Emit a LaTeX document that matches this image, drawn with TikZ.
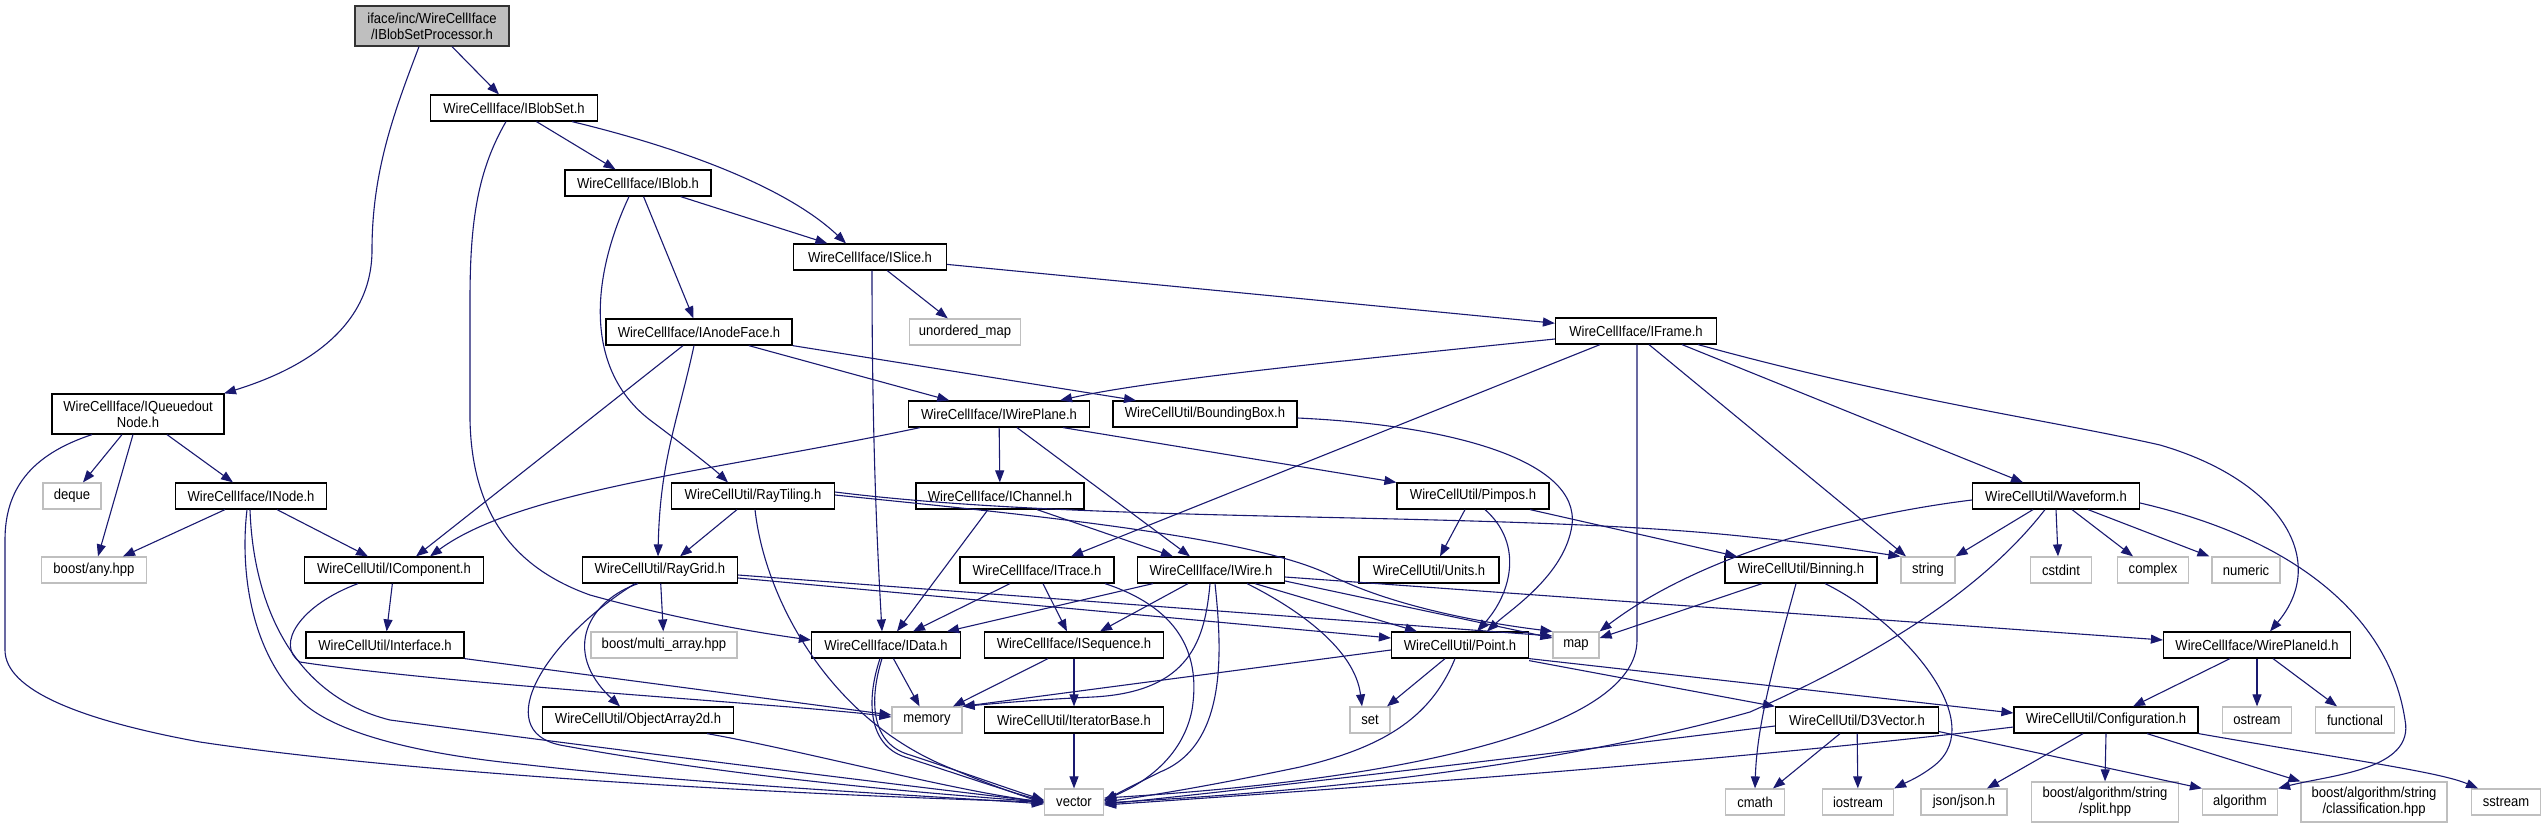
\documentclass[tikz,border=0pt]{standalone}
\usepackage{fontspec}
\setmainfont{Liberation Sans}[FakeStretch=0.9]
\usetikzlibrary{arrows.meta}
\definecolor{eblue}{HTML}{191970}
\definecolor{sysgray}{HTML}{BFBFBF}
\newcommand{\dfont}{\fontsize{14.5}{16}\selectfont}
\begin{document}
\begin{tikzpicture}[x=1pt,y=-1pt,
 inc/.style={draw=black, line width=1.2pt, fill=white, minimum height=26pt, inner sep=0pt, font=\dfont, align=center},
 sys/.style={inc, draw=sysgray},
 topnode/.style={inc, fill=sysgray, draw=black!80},
 e/.style={draw=eblue, line width=1.1pt, -{Triangle[length=12pt,width=9pt]}}]
\useasboundingbox (0,0) rectangle (2545,828);
% nodes
\node[topnode, minimum width=154pt, minimum height=40pt] (proc) at (432,26) {iface/inc/WireCellIface\\/IBlobSetProcessor.h};
\node[inc, minimum width=167pt] (blobset) at (514,108) {WireCellIface/IBlobSet.h};
\node[inc, minimum width=146pt] (blob) at (638,183) {WireCellIface/IBlob.h};
\node[inc, minimum width=153pt] (islice) at (870,257) {WireCellIface/ISlice.h};
\node[inc, minimum width=186pt] (anode) at (699,332) {WireCellIface/IAnodeFace.h};
\node[sys, minimum width=111pt] (umap) at (965,332) {unordered\_map};
\node[inc, minimum width=161pt] (iframe) at (1636,331) {WireCellIface/IFrame.h};
\node[inc, minimum width=172pt, minimum height=40pt] (queued) at (138,414) {WireCellIface/IQueuedout\\Node.h};
\node[inc, minimum width=181pt] (wireplane) at (999,414) {WireCellIface/IWirePlane.h};
\node[inc, minimum width=184pt] (bbox) at (1205,414) {WireCellUtil/BoundingBox.h};
\node[sys, minimum width=58pt] (deque) at (72,496) {deque};
\node[inc, minimum width=151pt] (inode) at (251,496) {WireCellIface/INode.h};
\node[inc, minimum width=163pt] (raytiling) at (753,496) {WireCellUtil/RayTiling.h};
\node[inc, minimum width=168pt] (ichannel) at (1000,496) {WireCellIface/IChannel.h};
\node[inc, minimum width=152pt] (pimpos) at (1473,496) {WireCellUtil/Pimpos.h};
\node[inc, minimum width=167pt] (waveform) at (2056,496) {WireCellUtil/Waveform.h};
\node[sys, minimum width=105pt] (anyhpp) at (94,570) {boost/any.hpp};
\node[inc, minimum width=179pt] (icomp) at (394,570) {WireCellUtil/IComponent.h};
\node[inc, minimum width=155pt] (raygrid) at (660,570) {WireCellUtil/RayGrid.h};
\node[inc, minimum width=154pt] (itrace) at (1037,570) {WireCellIface/ITrace.h};
\node[inc, minimum width=147pt] (iwire) at (1211,570) {WireCellIface/IWire.h};
\node[inc, minimum width=140pt] (units) at (1429,570) {WireCellUtil/Units.h};
\node[inc, minimum width=152pt] (binning) at (1801,570) {WireCellUtil/Binning.h};
\node[sys, minimum width=54pt] (string) at (1928,570) {string};
\node[sys, minimum width=61pt] (cstdint) at (2061,570) {cstdint};
\node[sys, minimum width=71pt] (complex) at (2153,570) {complex};
\node[sys, minimum width=68pt] (numeric) at (2246,570) {numeric};
\node[inc, minimum width=158pt] (interface) at (385,645) {WireCellUtil/Interface.h};
\node[sys, minimum width=146pt] (multiarray) at (664,645) {boost/multi\_array.hpp};
\node[inc, minimum width=149pt] (idata) at (886,645) {WireCellIface/IData.h};
\node[inc, minimum width=179pt] (iseq) at (1074,645) {WireCellIface/ISequence.h};
\node[inc, minimum width=137pt] (point) at (1460,645) {WireCellUtil/Point.h};
\node[sys, minimum width=46pt] (map) at (1576,645) {map};
\node[inc, minimum width=187pt] (wpid) at (2257,645) {WireCellIface/WirePlaneId.h};
\node[inc, minimum width=191pt] (objarray) at (638,720) {WireCellUtil/ObjectArray2d.h};
\node[sys, minimum width=70pt] (memory) at (927,720) {memory};
\node[inc, minimum width=179pt] (iterbase) at (1074,720) {WireCellUtil/IteratorBase.h};
\node[sys, minimum width=40pt] (set) at (1370,720) {set};
\node[inc, minimum width=163pt] (d3vector) at (1857,720) {WireCellUtil/D3Vector.h};
\node[inc, minimum width=184pt] (config) at (2106,720) {WireCellUtil/Configuration.h};
\node[sys, minimum width=69pt] (ostream) at (2257,720) {ostream};
\node[sys, minimum width=79pt] (functional) at (2355,720) {functional};
\node[sys, minimum width=59pt] (vector) at (1074,802) {vector};
\node[sys, minimum width=59pt] (cmath) at (1755,802) {cmath};
\node[sys, minimum width=71pt] (iostream) at (1858,802) {iostream};
\node[sys, minimum width=86pt] (json) at (1964,802) {json/json.h};
\node[sys, minimum width=147pt, minimum height=40pt] (split) at (2105,802) {boost/algorithm/string\\/split.hpp};
\node[sys, minimum width=75pt] (algorithm) at (2240,802) {algorithm};
\node[sys, minimum width=146pt, minimum height=40pt] (classif) at (2374,802) {boost/algorithm/string\\/classification.hpp};
\node[sys, minimum width=69pt] (sstream) at (2506,802) {sstream};
% edges
\draw[e] ([xshift=-13pt]proc.south) .. controls (395,110) and (372,170) .. (372,250) .. controls (372,330) and (300,370) .. ([xshift=86pt]queued.north);
\draw[e] ([xshift=20pt]proc.south) -- ([xshift=-15pt]blobset.north);
\draw[e] (blobset) -- (blob);
\draw[e] ([xshift=58pt]blobset.south) .. controls (690,150) and (790,190) .. ([xshift=-24pt]islice.north);
\draw[e] ([xshift=-8pt]blobset.south) .. controls (478,170) and (470,220) .. (470,300) -- (470,420) .. controls (472,520) and (520,570) .. (590,595) .. controls (680,620) and (760,633) .. ([yshift=5pt]idata.west);
\draw[e] (blob) -- (islice);
\draw[e] (blob) -- (anode);
\draw[e] ([xshift=-9pt]blob.south) .. controls (590,280) and (585,370) .. (650,420) .. controls (690,450) and (715,470) .. ([xshift=-25pt]raytiling.north);
\draw[e] (islice) -- (umap);
\draw[e] (islice) -- (iframe);
\draw[e] ([xshift=2pt]islice.south) .. controls (872,450) and (878,560) .. ([xshift=-4pt]idata.north);
\draw[e] (anode) -- (wireplane);
\draw[e] (anode.south east) -- ([xshift=-69pt]bbox.north);
\draw[e] ([xshift=-16pt]anode.south) -- ([xshift=22pt]icomp.north);
\draw[e] ([xshift=-5pt]anode.south) .. controls (678,420) and (660,460) .. ([xshift=-2pt]raygrid.north);
\draw[e] ([yshift=-8pt]iframe.west) .. controls (1350,360) and (1150,380) .. ([xshift=61pt]wireplane.north);
\draw[e] ([xshift=-36pt]iframe.south) -- ([xshift=34pt]itrace.north);
\draw[e] ([xshift=13pt]iframe.south) -- ([xshift=-22pt]string.north);
\draw[e] ([xshift=1pt]iframe.south) -- (1637,640) .. controls (1637,730) and (1400,780) .. ([yshift=4pt]vector.east);
\draw[e] ([xshift=46pt]iframe.south) -- ([xshift=-33pt]waveform.north);
\draw[e] ([xshift=62pt]iframe.south) .. controls (1900,400) and (2050,420) .. (2160,445) .. controls (2280,480) and (2330,560) .. ([xshift=13pt]wpid.north);
\draw[e] ([xshift=-16pt]queued.south) -- ([xshift=11pt]deque.north);
\draw[e] ([xshift=-5pt]queued.south) -- ([xshift=4pt]anyhpp.north);
\draw[e] ([xshift=29pt]queued.south) -- ([xshift=-18pt]inode.north);
\draw[e] ([xshift=-46pt]queued.south) .. controls (30,455) and (5,490) .. (5,540) -- (5,650) .. controls (5,690) and (80,720) .. (200,742) .. controls (420,775) and (800,795) .. (vector.west);
\draw[e] ([xshift=-79pt]wireplane.south) .. controls (720,470) and (520,490) .. ([xshift=36pt]icomp.north);
\draw[e] (wireplane) -- (ichannel);
\draw[e] ([xshift=18pt]wireplane.south) -- ([xshift=-21pt]iwire.north);
\draw[e] ([xshift=64pt]wireplane.south) -- (pimpos.north west);
\draw[e] ([yshift=-4pt]bbox.east) .. controls (1450,425) and (1580,460) .. (1572,525) .. controls (1565,575) and (1510,610) .. ([xshift=27pt]point.north);
\draw[e] ([xshift=-26pt]inode.south) -- ([xshift=29pt]anyhpp.north);
\draw[e] ([xshift=26pt]inode.south) -- ([xshift=-26pt]icomp.north);
\draw[e] ([xshift=-4pt]inode.south) .. controls (240,570) and (250,650) .. (300,700) .. controls (340,740) and (450,757) .. (520,764) .. controls (700,785) and (950,797) .. ([yshift=-2pt]vector.west);
\draw[e] ([xshift=-1pt]inode.south) .. controls (253,600) and (290,695) .. (390,720) .. controls (600,748) and (900,785) .. (vector.west);
\draw[e] (icomp) -- (interface);
\draw[e] ([xshift=-36pt]icomp.south) .. controls (300,605) and (275,645) .. (300,662) .. controls (450,685) and (800,705) .. ([yshift=3pt]memory.west);
\draw[e] (interface.south east) -- ([yshift=5pt]memory.west);
\draw[e] ([xshift=-16pt]raytiling.south) -- ([xshift=20pt]raygrid.north);
\draw[e] ([xshift=2pt]raytiling.south) .. controls (765,600) and (830,720) .. (950,768) .. controls (990,785) and (1020,795) .. ([yshift=-1pt]vector.west);
\draw[e] ([yshift=4pt]raytiling.east) .. controls (1100,525) and (1500,510) .. (1750,537) .. controls (1830,545) and (1870,552) .. (string.north west);
\draw[e] ([yshift=1pt]raytiling.east) .. controls (1000,512) and (1250,535) .. (1330,575) .. controls (1400,610) and (1500,625) .. (map.north west);
\draw[e] (raygrid) -- (multiarray);
\draw[e] ([xshift=-22pt]raygrid.south) .. controls (590,600) and (560,650) .. ([xshift=-18pt]objarray.north);
\draw[e] ([xshift=-25pt]raygrid.south) .. controls (545,640) and (490,730) .. (560,745) .. controls (750,780) and (950,795) .. (vector.west);
\draw[e] ([yshift=-5pt]raygrid.east) -- ([yshift=9pt]map.west);
\draw[e] ([yshift=-8pt]raygrid.east) -- ([yshift=7pt]point.west);
\draw[e] ([xshift=69pt]objarray.south) .. controls (800,750) and (950,790) .. (vector.west);
\draw[e] (idata) -- (memory);
\draw[e] ([xshift=-6pt]idata.south) .. controls (866,700) and (868,745) .. (905,757) .. controls (960,775) and (1010,792) .. ([yshift=1pt]vector.west);
\draw[e] ([xshift=-4pt]idata.south) .. controls (869,700) and (871,742) .. (907,754) .. controls (962,772) and (1012,790) .. ([yshift=2pt]vector.west);
\draw[e] ([xshift=-27pt]itrace.south) -- ([xshift=27pt]idata.north);
\draw[e] ([xshift=6pt]itrace.south) -- ([xshift=-7pt]iseq.north);
\draw[e] ([xshift=68pt]itrace.south) .. controls (1185,610) and (1200,660) .. (1192,710) .. controls (1182,760) and (1140,785) .. ([yshift=2pt]vector.east);
\draw[e] ([xshift=-12pt]ichannel.south) -- ([xshift=11pt]idata.north);
\draw[e] ([xshift=37pt]ichannel.south) -- ([xshift=-38pt]iwire.north);
\draw[e] ([xshift=-58pt]iwire.south) -- ([xshift=61pt]idata.north);
\draw[e] ([xshift=-23pt]iwire.south) -- ([xshift=26pt]iseq.north);
\draw[e] ([xshift=-1pt]iwire.south) .. controls (1205,640) and (1190,692) .. (1093,697) .. controls (1030,700) and (990,704) .. (memory.north east);
\draw[e] ([xshift=4pt]iwire.south) .. controls (1222,650) and (1228,745) .. (1160,772) .. controls (1140,782) and (1120,792) .. ([yshift=1pt]vector.east);
\draw[e] ([xshift=36pt]iwire.south) .. controls (1300,610) and (1355,650) .. ([xshift=-8pt]set.north);
\draw[e] ([xshift=44pt]iwire.south) -- ([xshift=-43pt]point.north);
\draw[e] ([yshift=-7pt]iwire.east) -- ([yshift=5pt]wpid.west);
\draw[e] ([yshift=-11pt]iwire.east) -- ([yshift=7pt]map.west);
\draw[e] ([xshift=-26pt]iseq.south) -- ([xshift=26pt]memory.north);
\draw[e] (iseq) -- (iterbase);
\draw[e] (iterbase) -- (vector);
\draw[e] ([xshift=-8pt]pimpos.south) -- ([xshift=11pt]units.north);
\draw[e] ([xshift=12pt]pimpos.south) .. controls (1525,545) and (1510,595) .. ([xshift=17pt]point.north);
\draw[e] ([xshift=57pt]pimpos.south) -- ([xshift=-64pt]binning.north);
\draw[e] ([xshift=-15pt]point.south) -- ([xshift=17pt]set.north);
\draw[e] ([xshift=-5pt]point.south) .. controls (1430,720) and (1380,748) .. (1300,767) .. controls (1200,788) and (1140,797) .. (vector.east);
\draw[e] ([yshift=-5pt]point.west) -- (memory.north east);
\draw[e] (point.south east) -- ([yshift=7pt]config.west);
\draw[e] ([yshift=-2pt]point.south east) -- (d3vector.north west);
\draw[e] ([xshift=-39pt]binning.south) -- ([yshift=7pt]map.east);
\draw[e] ([xshift=-5pt]binning.south) .. controls (1778,650) and (1757,720) .. (cmath.north);
\draw[e] ([xshift=24pt]binning.south) .. controls (1900,620) and (1990,720) .. (1935,765) .. controls (1920,777) and (1905,783) .. (iostream.north east);
\draw[e] ([xshift=-23pt]waveform.south) -- (string.north east);
\draw[e] (waveform.south) -- ([xshift=-3pt]cstdint.north);
\draw[e] ([xshift=16pt]waveform.south) -- ([xshift=-20pt]complex.north);
\draw[e] ([xshift=32pt]waveform.south) -- ([xshift=-2pt]numeric.north west);
\draw[e] ([yshift=-4pt]waveform.west) .. controls (1850,515) and (1700,555) .. (map.north east);
\draw[e] ([xshift=-11pt]waveform.south) .. controls (1990,580) and (1900,645) .. (1750,712) .. controls (1500,782) and (1200,797) .. ([yshift=-1pt]vector.east);
\draw[e] ([yshift=-7pt]waveform.east) .. controls (2300,540) and (2390,620) .. (2405,720) .. controls (2415,770) and (2330,775) .. (algorithm.north east);
\draw[e] ([xshift=-27pt]wpid.south) -- ([xshift=27pt]config.north);
\draw[e] (wpid) -- (ostream);
\draw[e] ([xshift=16pt]wpid.south) -- ([xshift=-18pt]functional.north);
\draw[e] ([xshift=-17pt]d3vector.south) -- ([xshift=18pt]cmath.north);
\draw[e] (d3vector) -- (iostream);
\draw[e] ([yshift=2pt]d3vector.south east) -- (algorithm.north west);
\draw[e] ([yshift=-6pt]d3vector.west) .. controls (1500,760) and (1200,795) .. ([yshift=-2pt]vector.east);
\draw[e] ([yshift=-7pt]config.west) .. controls (1700,765) and (1250,795) .. ([yshift=-3pt]vector.east);
\draw[e] ([xshift=-23pt]config.south) -- ([xshift=23pt]json.north);
\draw[e] (config.south) -- (split.north);
\draw[e] ([xshift=41pt]config.south) -- (classif.north west);
\draw[e] (config.south east) .. controls (2350,760) and (2440,772) .. ([xshift=-28pt]sstream.north);
\end{tikzpicture}
\end{document}
